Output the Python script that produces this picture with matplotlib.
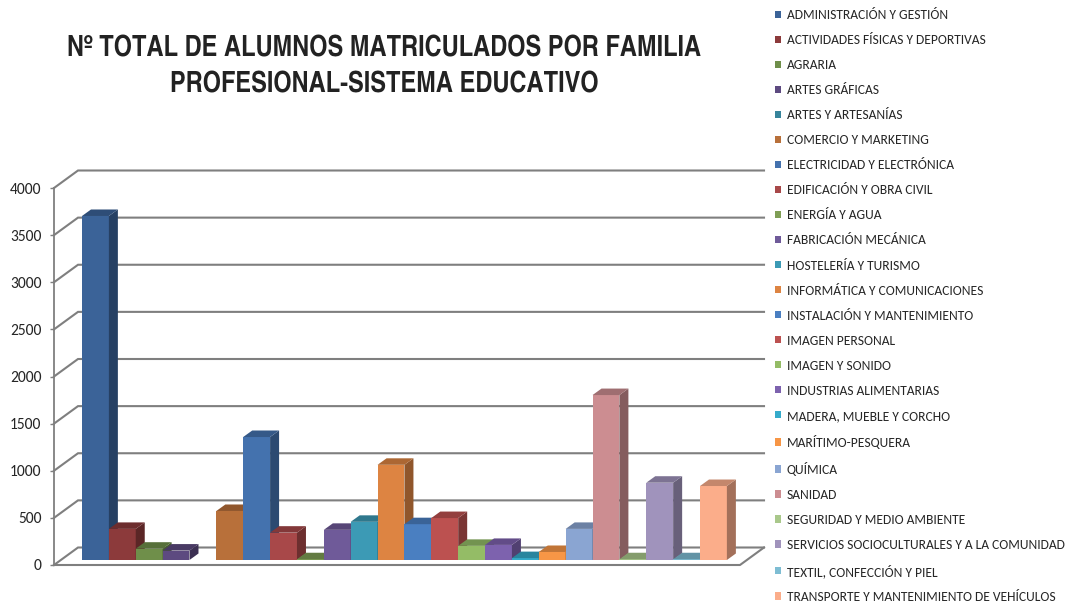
import matplotlib
matplotlib.use('Agg')
import matplotlib.pyplot as plt
from matplotlib.patches import Polygon
from matplotlib.colors import to_rgb
import logging

logging.getLogger('matplotlib.font_manager').setLevel(logging.ERROR)

familias = ['ADMINISTRACIÓN Y GESTIÓN', 'ACTIVIDADES FÍSICAS Y DEPORTIVAS', 'AGRARIA', 'ARTES GRÁFICAS',
            'ARTES Y ARTESANÍAS', 'COMERCIO Y MARKETING', 'ELECTRICIDAD Y ELECTRÓNICA', 'EDIFICACIÓN Y OBRA CIVIL',
            'ENERGÍA Y AGUA', 'FABRICACIÓN MECÁNICA', 'HOSTELERÍA Y TURISMO', 'INFORMÁTICA Y COMUNICACIONES',
            'INSTALACIÓN Y MANTENIMIENTO', 'IMAGEN PERSONAL', 'IMAGEN Y SONIDO', 'INDUSTRIAS ALIMENTARIAS',
            'MADERA, MUEBLE Y CORCHO', 'MARÍTIMO-PESQUERA', 'QUÍMICA', 'SANIDAD', 'SEGURIDAD Y MEDIO AMBIENTE',
            'SERVICIOS SOCIOCULTURALES Y A LA COMUNIDAD', 'TEXTIL, CONFECCIÓN Y PIEL',
            'TRANSPORTE Y MANTENIMIENTO DE VEHÍCULOS']
alumnos = [3650, 330, 120, 100, 0, 520, 1305, 290, 8, 320, 405, 1010,
           380, 445, 150, 160, 20, 85, 330, 1750, 8, 820, 8, 785]
colores = ['#3B6398', '#8C3A3B', '#6F8F4A', '#5D4A80', '#37849B', '#B8703A', '#4472AE', '#A84849',
           '#7F9E55', '#6F5A99', '#3C9AB5', '#DD8442', '#4A7FC1', '#BC5150', '#94BC66', '#7D62AE',
           '#35ABCB', '#F79646', '#8AA5D2', '#CC8D91', '#A9C88B', '#A093BC', '#7EBDD3', '#FBAD8A']
ticks = [0, 500, 1000, 1500, 2000, 2500, 3000, 3500, 4000]

W, H = 1066, 604
# escala: 26.87 px por barra, 377 px para 4000 alumnos
px_x = 26.87
px_y = 377 / 4000


def oscurecer(c, f):
    return tuple(v * f for v in to_rgb(c))


plt.rcParams['font.family'] = ['Carlito', 'Lato', 'DejaVu Sans']
fig = plt.figure(figsize=(W / 100, H / 100), dpi=100, facecolor='white')
ax = fig.add_axes([54 / W, 1 - 565 / H, 686 / W, 377 / H])
ax.set_xlim(-28 / px_x, 658 / px_x)
ax.set_ylim(0, 4000)
for s in ax.spines.values():
    s.set_visible(False)
ax.patch.set_visible(False)

# paredes del grafico 3D
x0, x1 = ax.get_xlim()
fondo_x = 24 / px_x
fondo_y = 17.5 / px_y
gris = '#7f7f7f'
for t in ticks:
    ax.plot([x0, x0 + fondo_x, x1 + fondo_x], [t, t + fondo_y, t + fondo_y], color=gris, lw=1.5,
            zorder=1, clip_on=False, solid_joinstyle='miter')
ax.plot([x0, x0], [0, 4000], color=gris, lw=1.3, zorder=1, clip_on=False)
ax.plot([x0, x1, x1 + fondo_x], [0, 0, fondo_y], color=gris, lw=1.5, zorder=1, clip_on=False)

ax.set_xticks([])
ax.set_yticks(ticks)
ax.tick_params(axis='y', length=3, width=1, color=gris, labelsize=11.2, labelcolor='#262626', pad=6)

# barras con cara lateral y superior
base = 5 / px_y
prof_x = 9 / px_x
prof_y = 6.5 / px_y
handles = []
for i, (nombre, v, c) in enumerate(zip(familias, alumnos, colores)):
    z = 3 + i
    b = ax.bar(i, v, width=1, bottom=base, align='edge', color=c, label=nombre, zorder=z, clip_on=False)
    handles.append(b)
    if v == 0:
        continue
    top = base + v
    ax.add_patch(Polygon([(i + 1, base), (i + 1 + prof_x, base + prof_y), (i + 1 + prof_x, top + prof_y), (i + 1, top)],
                         closed=True, fc=oscurecer(c, 0.65), ec='none', zorder=z, clip_on=False))
    ax.add_patch(Polygon([(i, top), (i + prof_x, top + prof_y), (i + 1 + prof_x, top + prof_y), (i + 1, top)],
                         closed=True, fc=oscurecer(c, 0.78), ec='none', zorder=z, clip_on=False))

fig.legend(handles=handles, labels=familias, loc='upper left', bbox_to_anchor=(770 / W, 1 - 4.5 / H),
           frameon=False, fontsize=9.75, labelspacing=0.962, handlelength=0.44, handleheight=0.45,
           handletextpad=0.44, borderpad=0.35, borderaxespad=0, labelcolor='#262626')

titulo = ['TeX Gyre Heros Cn', 'Liberation Sans']
fig.text(384 / W, 1 - 49 / H, 'Nº TOTAL DE ALUMNOS MATRICULADOS POR FAMILIA', ha='center', va='center',
         family=titulo, fontweight='bold', fontsize=20.75, color='#222222')
fig.text(384 / W, 1 - 85 / H, 'PROFESIONAL-SISTEMA EDUCATIVO', ha='center', va='center',
         family=titulo, fontweight='bold', fontsize=20.75, color='#222222')

fig.savefig('out.png', dpi=100)
